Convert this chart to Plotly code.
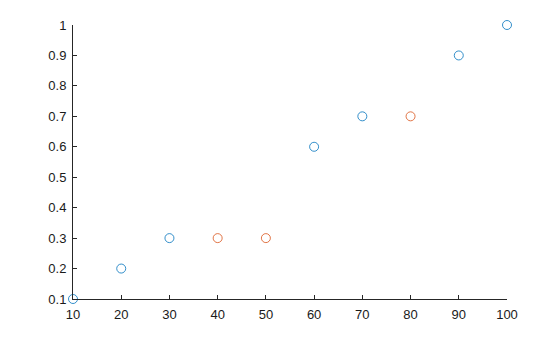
import plotly.graph_objects as go

blue_x = [10, 20, 30, 60, 70, 90, 100]
blue_y = [0.1, 0.2, 0.3, 0.6, 0.7, 0.9, 1.0]
orange_x = [40, 50, 80]
orange_y = [0.3, 0.3, 0.7]
x_ticks = [10, 20, 30, 40, 50, 60, 70, 80, 90, 100]
y_ticks = [0.1, 0.2, 0.3, 0.4, 0.5, 0.6, 0.7, 0.8, 0.9, 1.0]
y_labels = ["0.1", "0.2", "0.3", "0.4", "0.5", "0.6", "0.7", "0.8", "0.9", "1"]

fig = go.Figure()
fig.add_trace(go.Scatter(x=blue_x, y=blue_y, mode="markers", cliponaxis=False,
                         marker=dict(symbol="circle-open", size=9, color="#0072BD", line=dict(width=0.8))))
fig.add_trace(go.Scatter(x=orange_x, y=orange_y, mode="markers", cliponaxis=False,
                         marker=dict(symbol="circle-open", size=9, color="#D95319", line=dict(width=0.8))))

axis_common = dict(showgrid=False, zeroline=False, showline=True, linecolor="#262626", linewidth=1,
                   ticks="inside", ticklen=4, tickcolor="#262626", tickwidth=1, ticklabelstandoff=3,
                   tickfont=dict(family="Liberation Sans, Arial, sans-serif", size=13, color="#1a1a1a"))

fig.update_layout(
    width=560, height=337,
    margin=dict(l=73, r=53, t=25, b=38),
    paper_bgcolor="white", plot_bgcolor="white",
    showlegend=False,
    xaxis=dict(range=[10, 100], tickvals=x_ticks, ticktext=[str(v) for v in x_ticks], **axis_common),
    yaxis=dict(range=[0.1, 1.0], tickvals=y_ticks, ticktext=y_labels, **axis_common),
)
fig.write_html("out.html")
